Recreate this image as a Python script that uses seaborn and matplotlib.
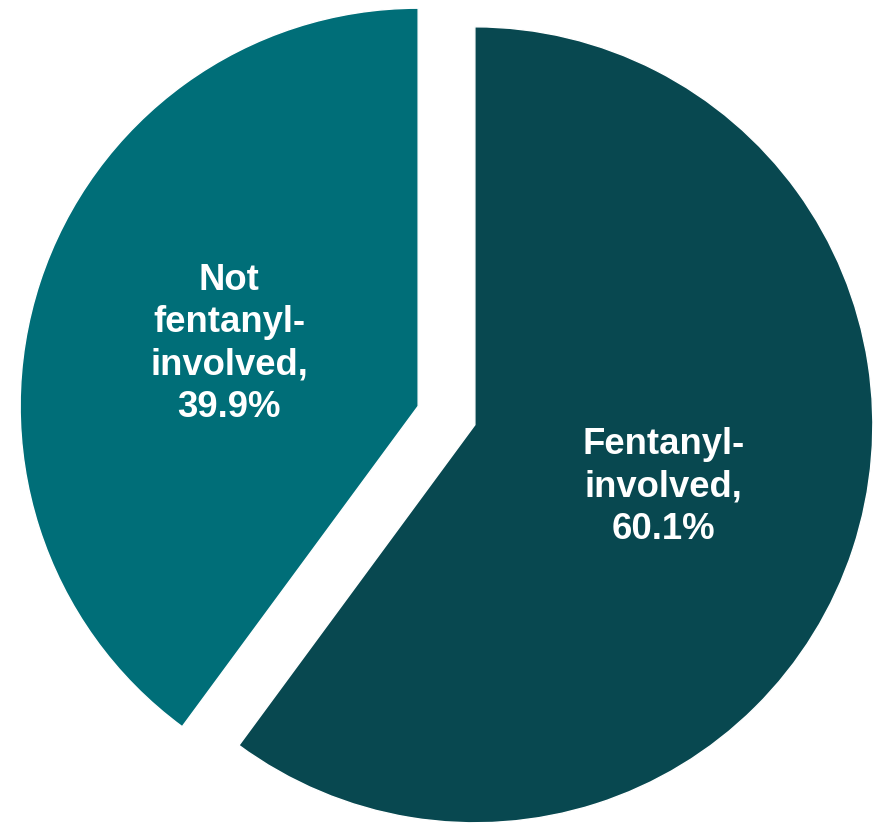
import matplotlib
matplotlib.use("Agg")
import matplotlib.pyplot as plt
import seaborn as sns

# share of deaths
categories = ["Fentanyl-\ninvolved", "Not\nfentanyl-\ninvolved"]
shares = [60.1, 39.9]
colors = ["#084850", "#006E78"]

sns.set_theme(style="white")
plt.rcParams["font.family"] = ["Liberation Sans", "DejaVu Sans"]

fig = plt.figure(figsize=(8.81, 8.25), dpi=100)
ax = fig.add_axes([0, 0, 1, 1])

labels = [f"{c},\n{v:.1f}%" for c, v in zip(categories, shares)]
wedges, texts = ax.pie(
    shares,
    labels=labels,
    colors=colors,
    startangle=90,
    counterclock=False,
    explode=[0.075, 0.075],
    labeldistance=0.5,
    textprops=dict(color="white", fontsize=26.3, fontweight="bold", linespacing=1.28),
)
for t in texts:
    t.set_horizontalalignment("center")
    t.set_verticalalignment("center")

ax.set_xlim(-1.1219, 1.0917)
ax.set_ylim(-1.0289, 1.0440)
ax.set_aspect("auto")
ax.axis("off")

fig.savefig("out.png", dpi=100)
